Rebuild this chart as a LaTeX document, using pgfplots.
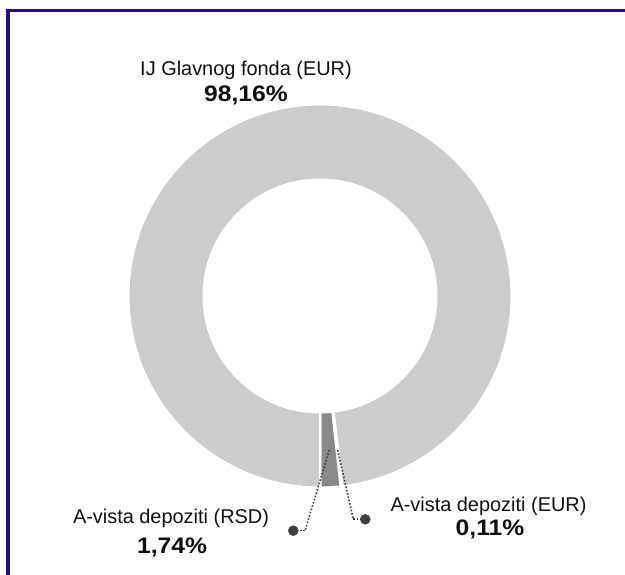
\documentclass[border=0pt]{standalone}
\usepackage{pgfplots}
\pgfplotsset{compat=1.18}
\usepackage{pgfplotstable}
\usepackage{fontspec}
\setmainfont{Liberation Sans}
\newfontfamily\pctfont[FakeStretch=1.1]{Liberation Sans}

\definecolor{framecol}{RGB}{40,10,140}
\definecolor{lightslice}{RGB}{204,204,204}
\definecolor{darkslice}{RGB}{137,137,137}
\definecolor{eurslice}{RGB}{190,190,190}
\definecolor{dotgray}{RGB}{64,64,64}
\definecolor{txt}{RGB}{15,15,15}

% portfolio shares (%)
\pgfplotstableread{
name share
glavni 98.16
rsd 1.74
eur 0.11
}\shares

\newcommand{\slice}[3]{%
  \pgfmathsetmacro{\xa}{\cx+\ro*cos(#2)}\pgfmathsetmacro{\ya}{\cy+\ro*sin(#2)}%
  \pgfmathsetmacro{\xb}{\cx+\ri*cos(#3)}\pgfmathsetmacro{\yb}{\cy+\ri*sin(#3)}%
  \filldraw[fill=#1, draw=white, line width=2.6bp, line join=miter]
    (\xa bp,\ya bp) arc[start angle=#2, end angle=#3, radius=\ro bp]
    -- (\xb bp,\yb bp) arc[start angle=#3, end angle=#2, radius=\ri bp] -- cycle;}

\pgfplotsset{donut/.style={
    x=1bp, y=1bp,
    xmin=0, xmax=625, ymin=0, ymax=575,
    hide axis,
    clip=false,
}}
\tikzset{leader/.style={dotgray, line width=1.6bp, dash pattern=on 1.6bp off 1.8bp}}

\begin{document}
\begin{tikzpicture}
\useasboundingbox (0,0) rectangle (625bp,575bp);
\pgfplotstablegetelem{0}{share}\of\shares \let\sGl\pgfplotsretval
\pgfplotstablegetelem{1}{share}\of\shares \let\sRsd\pgfplotsretval
\pgfplotstablegetelem{2}{share}\of\shares \let\sEur\pgfplotsretval
\def\cx{320}\def\cy{279}\def\ro{191.8}\def\ri{116.2}
\pgfmathsetmacro{\aA}{270}
\pgfmathsetmacro{\aB}{\aA+3.6*\sRsd}
\pgfmathsetmacro{\aC}{\aB+3.6*\sEur}
\pgfmathsetmacro{\aD}{\aC+3.6*\sGl}

\begin{axis}[donut]
% frame
\addplot[framecol, line width=3bp, line join=miter] coordinates {(625,564) (8,564) (8,0)};

% leader lines
\addplot[leader] coordinates {(305,44.3) (293.3,44.3)};
\addplot[leader] coordinates {(353.3,55.7) (365.3,55.7)};
\addplot[only marks, mark=*, mark size=5bp, dotgray] coordinates {(293.3,44.3) (365.3,55.7)};

% labels
\node[anchor=base, text=txt, font=\fontsize{20}{24}\selectfont] at (axis cs:246,499) {IJ Glavnog fonda (EUR)};
\node[anchor=base, text=txt, font=\fontsize{22.5}{26}\selectfont\pctfont\bfseries] at (axis cs:246,473.3) {98,16\%};
\node[anchor=base, text=txt, font=\fontsize{20}{24}\selectfont] at (axis cs:171,51.7) {A-vista depoziti (RSD)};
\node[anchor=base, text=txt, font=\fontsize{22.5}{26}\selectfont\pctfont\bfseries] at (axis cs:172,22) {1,74\%};
\node[anchor=base, text=txt, font=\fontsize{20}{24}\selectfont] at (axis cs:488.5,64) {A-vista depoziti (EUR)};
\node[anchor=base, text=txt, font=\fontsize{22.5}{26}\selectfont\pctfont\bfseries] at (axis cs:490,40) {0,11\%};
\end{axis}

% donut slices (bp units, origin at the axis' lower left)
\slice{darkslice}{\aA}{\aB}
\slice{eurslice}{\aB}{\aC}
\slice{lightslice}{\aC}{\aD}

% leader lines running over the ring
\begin{axis}[donut]
\addplot[leader] coordinates {(329.3,125) (305,44.3)};
\addplot[leader] coordinates {(337.7,125) (353.3,55.7)};
\end{axis}
\end{tikzpicture}
\end{document}
